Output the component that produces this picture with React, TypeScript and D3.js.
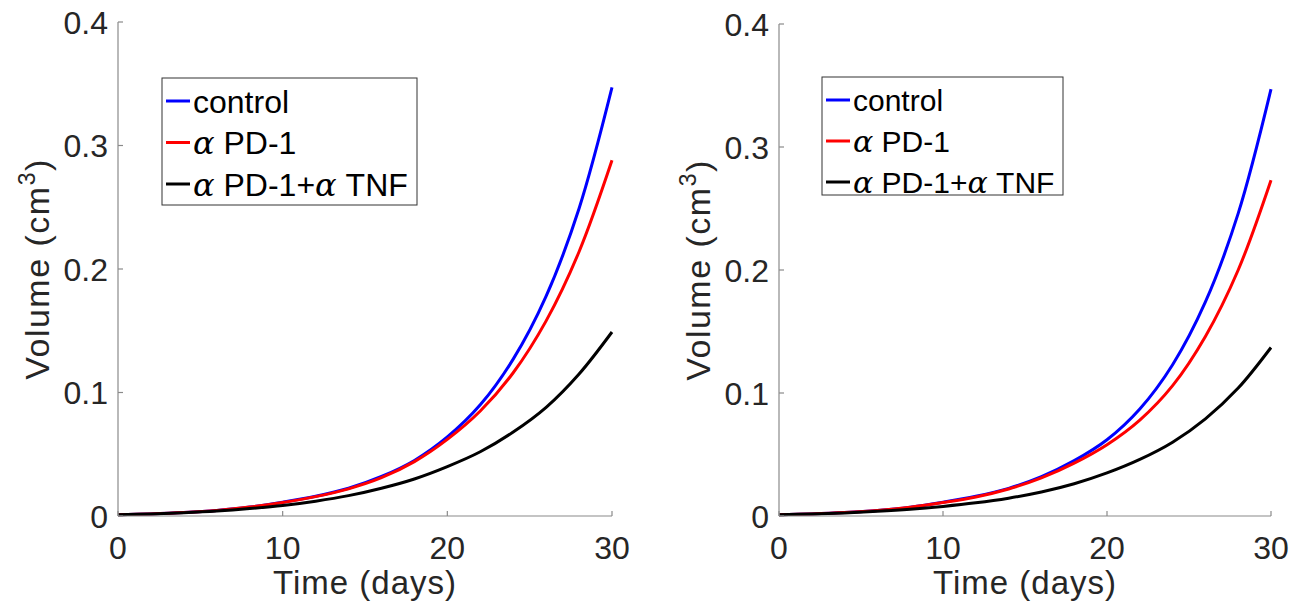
import React from "react";
import * as d3 from "d3";

// days sampled every 2 days
const days = [0, 2, 4, 6, 8, 10, 12, 14, 16, 18, 20, 22, 24, 26, 28, 30];

// left panel (volume, cm^3)
const leftControl = [0.001, 0.0017, 0.0028, 0.0045, 0.0072, 0.0112, 0.016, 0.0225, 0.032, 0.045, 0.064, 0.09, 0.127, 0.178, 0.249, 0.347];
const leftPD1 = [0.001, 0.0017, 0.0028, 0.0045, 0.0072, 0.011, 0.0157, 0.022, 0.031, 0.044, 0.062, 0.085, 0.116, 0.158, 0.214, 0.288];
const leftPD1TNF = [0.001, 0.0016, 0.0026, 0.004, 0.006, 0.0085, 0.012, 0.0165, 0.0225, 0.03, 0.04, 0.052, 0.068, 0.088, 0.115, 0.149];

// right panel
const rightControl = [0.001, 0.0017, 0.0028, 0.0045, 0.0072, 0.0112, 0.016, 0.0225, 0.032, 0.045, 0.062, 0.087, 0.123, 0.174, 0.246, 0.347];
const rightPD1 = [0.001, 0.0017, 0.0028, 0.0045, 0.0072, 0.011, 0.0155, 0.022, 0.031, 0.043, 0.058, 0.078, 0.106, 0.146, 0.2, 0.273];
const rightPD1TNF = [0.001, 0.0016, 0.0025, 0.0038, 0.0055, 0.0078, 0.0107, 0.0145, 0.0195, 0.0262, 0.035, 0.046, 0.06, 0.079, 0.104, 0.137];

const xTicks = [0, 10, 20, 30];
const yTicks = [0, 0.1, 0.2, 0.3, 0.4];
const seriesColors = ["#0000ff", "#ff0000", "#000000"];

const sans = "'Liberation Sans', Arial, sans-serif";
const serif = "'DejaVu Serif', 'Liberation Serif', serif";
const textColor = "#262626";
const axisColor = "#8a8a8a";

type PanelProps = {
  left: number;
  right: number;
  top: number;
  bottom: number;
  series: number[][];
  legend: { x: number; y: number; w: number; h: number; row: number; font: number };
};

const LegendLabel = ({ idx }: { idx: number }) => {
  if (idx === 0) return <tspan fontFamily={sans}>control</tspan>;
  if (idx === 1)
    return (
      <>
        <tspan fontFamily={serif} fontStyle="italic">α</tspan>
        <tspan fontFamily={sans}> PD-1</tspan>
      </>
    );
  return (
    <>
      <tspan fontFamily={serif} fontStyle="italic">α</tspan>
      <tspan fontFamily={sans}> PD-1+</tspan>
      <tspan fontFamily={serif} fontStyle="italic">α</tspan>
      <tspan fontFamily={sans}> TNF</tspan>
    </>
  );
};

const Panel = ({ left, right, top, bottom, series, legend }: PanelProps) => {
  const x = d3.scaleLinear().domain([0, 30]).range([left, right]);
  const y = d3.scaleLinear().domain([0, 0.4]).range([bottom, top]);
  const line = d3
    .line<number>()
    .x((d, i) => x(days[i]))
    .y((d) => y(d))
    .curve(d3.curveCatmullRom.alpha(0.5));
  const midY = (top + bottom) / 2;

  return (
    <g>
      {series.map((s, i) => (
        <path key={i} d={line(s) || ""} fill="none" stroke={seriesColors[i]} strokeWidth={3} />
      ))}
      <line x1={left} x2={left} y1={top} y2={bottom} stroke={axisColor} strokeWidth={1.2} />
      <line x1={left} x2={right} y1={bottom} y2={bottom} stroke={axisColor} strokeWidth={1.2} />
      {yTicks.map((t) => (
        <g key={t}>
          <line x1={left} x2={left + 5} y1={y(t)} y2={y(t)} stroke={axisColor} strokeWidth={1.2} />
          <text
            x={left - 10}
            y={y(t)}
            dy="0.37em"
            textAnchor="end"
            fontFamily={sans}
            fontSize={32}
            fill={textColor}
          >
            {t === 0 ? "0" : d3.format(".1f")(t)}
          </text>
        </g>
      ))}
      {xTicks.map((t) => (
        <g key={t}>
          <line x1={x(t)} x2={x(t)} y1={bottom} y2={bottom - 5} stroke={axisColor} strokeWidth={1.2} />
          <text x={x(t)} y={bottom + 43} textAnchor="middle" fontFamily={sans} fontSize={32} fill={textColor}>
            {t}
          </text>
        </g>
      ))}
      <text
        x={(left + right) / 2}
        y={bottom + 78}
        textAnchor="middle"
        fontFamily={sans}
        fontSize={33}
        letterSpacing={1}
        fill={textColor}
      >
        Time (days)
      </text>
      <text
        transform={`translate(${left - 69},${midY}) rotate(-90)`}
        textAnchor="middle"
        fontFamily={sans}
        fontSize={34}
        letterSpacing={1.5}
        fill={textColor}
      >
        Volume (cm<tspan dy={-14} fontSize={23}>3</tspan>
        <tspan dy={14}>)</tspan>
      </text>
      <rect
        x={legend.x}
        y={legend.y}
        width={legend.w}
        height={legend.h}
        fill="#fff"
        stroke="#333"
        strokeWidth={1}
      />
      {series.map((_, i) => {
        const ry = legend.y + 23 + i * legend.row;
        return (
          <g key={i}>
            <line x1={legend.x + 4} x2={legend.x + 28} y1={ry} y2={ry} stroke={seriesColors[i]} strokeWidth={3} />
            <text x={legend.x + 31} y={ry} dy="0.36em" fontSize={legend.font} fill="#000">
              <LegendLabel idx={i} />
            </text>
          </g>
        );
      })}
    </g>
  );
};

export default function App() {
  return (
    <svg width={1303} height={613} style={{ display: "block", position: "absolute", left: 0, top: 0, background: "#fff" }}>
      <Panel
        left={118}
        right={612}
        top={22}
        bottom={516}
        series={[leftControl, leftPD1, leftPD1TNF]}
        legend={{ x: 162, y: 78, w: 255, h: 127, row: 41.5, font: 32 }}
      />
      <Panel
        left={779}
        right={1271}
        top={24}
        bottom={516}
        series={[rightControl, rightPD1, rightPD1TNF]}
        legend={{ x: 822, y: 77, w: 241, h: 118, row: 41, font: 30 }}
      />
    </svg>
  );
}
